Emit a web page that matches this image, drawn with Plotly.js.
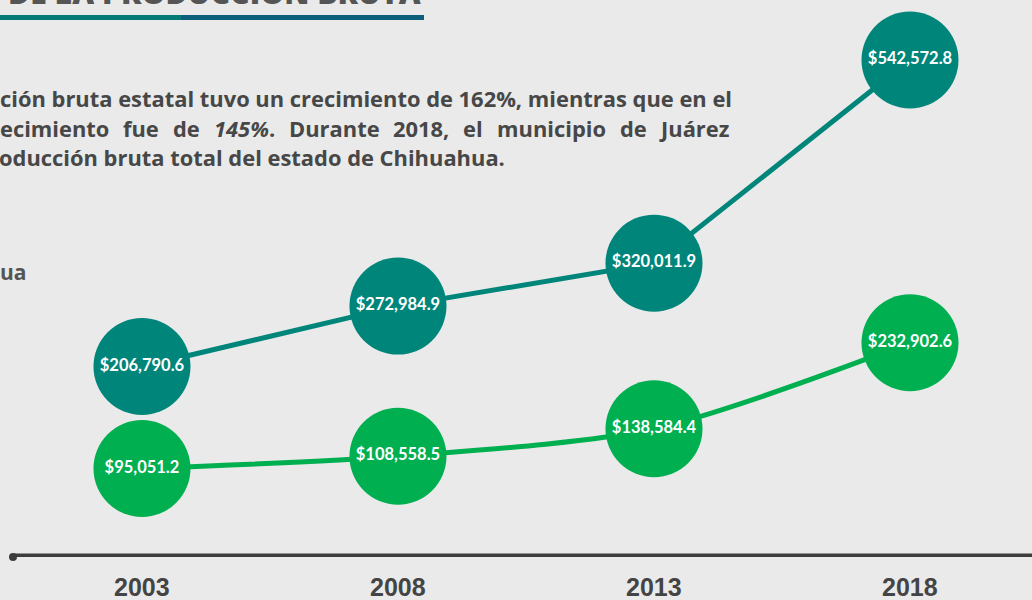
<!DOCTYPE html>
<html>
<head>
<meta charset="utf-8">
<script src="https://cdn.plot.ly/plotly-3.0.1.min.js"></script>
<style>html,body{margin:0;padding:0;background:#EAEAEA;}#chart{width:1032px;height:600px;}</style>
</head>
<body>
<div id="chart"></div>
<script>
const years = [2003, 2008, 2013, 2018];
const yearLabels = ["2003", "2008", "2013", "2018"];
const chihuahua = [206790.6, 272984.9, 320011.9, 542572.8];
const juarez = [95051.2, 108558.5, 138584.4, 232902.6];

const W = 1032, H = 600;
const px = x => x / W;
const py = y => 1 - y / H;

function fmt(v) {
  return '$' + v.toLocaleString('en-US', {minimumFractionDigits: 1, maximumFractionDigits: 1});
}

const TEAL = '#00857A', GREEN = '#00AF50', TXT = '#474747';
const labelFont = {family: 'Lato, sans-serif', size: 16.5, color: '#ffffff', weight: 700};

const traces = [
  {
    x: years, y: chihuahua, mode: 'lines+markers+text', type: 'scatter',
    line: {color: TEAL, width: 5},
    marker: {size: 97, color: TEAL, line: {width: 0}},
    text: chihuahua.map(fmt), textposition: 'middle center', textfont: labelFont,
    cliponaxis: false, hoverinfo: 'skip', showlegend: false
  },
  {
    x: years, y: juarez, mode: 'lines+markers+text', type: 'scatter',
    line: {color: GREEN, width: 5, shape: 'spline', smoothing: 0.8},
    marker: {size: 97, color: GREEN, line: {width: 0}},
    text: juarez.map(fmt), textposition: 'middle center', textfont: labelFont,
    cliponaxis: false, hoverinfo: 'skip', showlegend: false
  }
];

const PARA_SIZE = 21.9;
const paraFont = {family: 'Open Sans, sans-serif', size: PARA_SIZE, color: TXT, weight: 700};
const annotations = [];

// title (cut at top)
annotations.push({
  xref: 'paper', yref: 'paper', x: px(6), y: py(15), xanchor: 'left', yanchor: 'bottom',
  text: 'DE LA PRODUCCIÓN BRUTA', showarrow: false,
  font: {family: 'Open Sans, sans-serif', size: 30.2, color: '#555555', weight: 800}
});
// paragraph line 1
annotations.push({
  xref: 'paper', yref: 'paper', x: px(-2), y: py(98), xanchor: 'left', yanchor: 'middle',
  text: 'ción bruta estatal tuvo un crecimiento de 162%, mientras que en el', showarrow: false,
  font: paraFont
});
// paragraph line 2 (justified between x=0 and x=729)
const line2Words = ['ecimiento', 'fue', 'de', '145%', 'Durante', '2018,', 'el', 'municipio', 'de', 'Juárez'];
const line2Italic = [false, false, false, true, false, false, false, false, false, false];
const line2Suffix = ['', '', '', '.', '', '', '', '', '', ''];
(function () {
  const ctx = document.createElement('canvas').getContext('2d');
  const widths = line2Words.map((w, i) => {
    ctx.font = '700 ' + PARA_SIZE + 'px "Open Sans"';
    let wd = ctx.measureText(line2Suffix[i]).width;
    ctx.font = (line2Italic[i] ? 'italic ' : '') + '700 ' + PARA_SIZE + 'px "Open Sans"';
    wd += ctx.measureText(w).width;
    return wd;
  });
  const left = 0, right = 729;
  const total = widths.reduce((a, b) => a + b, 0);
  const gap = (right - left - total) / (line2Words.length - 1);
  let xpos = left;
  line2Words.forEach((w, i) => {
    const txt = (line2Italic[i] ? '<i>' + w + '</i>' : w) + line2Suffix[i];
    annotations.push({
      xref: 'paper', yref: 'paper', x: px(xpos + widths[i] / 2), y: py(128),
      xanchor: 'center', yanchor: 'middle', text: txt, showarrow: false, font: paraFont
    });
    xpos += widths[i] + gap;
  });
})();
// paragraph line 3
annotations.push({
  xref: 'paper', yref: 'paper', x: px(-3), y: py(158), xanchor: 'left', yanchor: 'middle',
  text: 'oducción bruta total del estado de Chihuahua.', showarrow: false,
  font: paraFont
});
// legend remnant
annotations.push({
  xref: 'paper', yref: 'paper', x: px(-2), y: py(272), xanchor: 'left', yanchor: 'middle',
  text: 'ua', showarrow: false, font: {family: 'Open Sans, sans-serif', size: 21, color: '#555555', weight: 700}
});
// year labels
years.forEach((yr, i) => annotations.push({
  xref: 'x', yref: 'paper', x: yr, y: py(587), xanchor: 'center', yanchor: 'middle',
  text: yearLabels[i], showarrow: false,
  font: {family: 'Liberation Sans, Arial, sans-serif', size: 25, color: '#444444', weight: 700}
}));

const shapes = [
  {type: 'rect', xref: 'paper', yref: 'paper', x0: 0, x1: px(181), y0: py(20), y1: py(15), fillcolor: '#067A74', line: {width: 0}},
  {type: 'rect', xref: 'paper', yref: 'paper', x0: px(181), x1: px(424), y0: py(20), y1: py(15), fillcolor: '#0C5F7A', line: {width: 0}},
  {type: 'line', xref: 'paper', yref: 'y', x0: px(13), x1: 1, y0: 0, y1: 0, line: {color: '#3D3D3D', width: 3.5}},
  {type: 'circle', xref: 'paper', yref: 'paper', x0: px(9), x1: px(17), y0: py(561), y1: py(553), fillcolor: '#3D3D3D', line: {width: 0}}
];

const layout = {
  width: W, height: H,
  margin: {l: 0, r: 0, t: 0, b: 0},
  paper_bgcolor: '#EAEAEA', plot_bgcolor: '#EAEAEA',
  xaxis: {range: [2000.227, 2020.383], visible: false, fixedrange: true},
  yaxis: {range: [-48969, 608331], visible: false, fixedrange: true},
  annotations: annotations,
  shapes: shapes,
  showlegend: false
};

Plotly.newPlot('chart', traces, layout, {staticPlot: true, displayModeBar: false});
</script>
</body>
</html>
